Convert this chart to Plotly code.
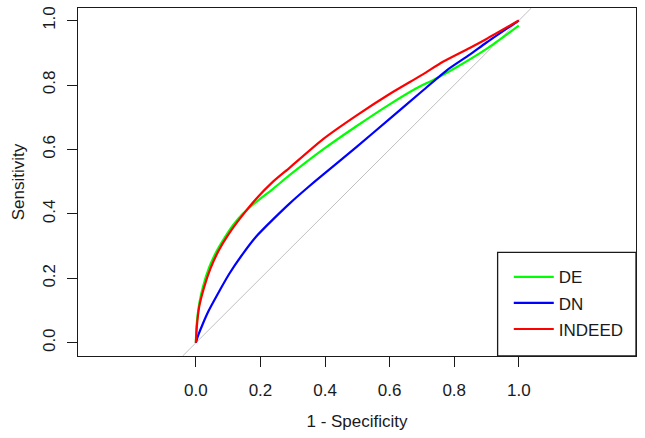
import plotly.graph_objects as go

# ROC curve data (1 - Specificity, Sensitivity)
de_fpr = [0, 0.002, 0.006, 0.012, 0.022, 0.042, 0.063, 0.084, 0.115, 0.146, 0.187, 0.239, 0.290,
          0.394, 0.497, 0.600, 0.683, 0.740, 0.807, 0.900, 1.0]
de_tpr = [0, 0.050, 0.091, 0.130, 0.174, 0.236, 0.282, 0.318, 0.365, 0.401, 0.437, 0.478, 0.520,
          0.600, 0.672, 0.740, 0.790, 0.818, 0.855, 0.912, 0.984]

dn_fpr = [0, 0.008, 0.022, 0.040, 0.063, 0.104, 0.146, 0.187, 0.239, 0.290, 0.342, 0.394,
          0.497, 0.600, 0.703, 0.776, 0.848, 0.900, 1.0]
dn_tpr = [0, 0.025, 0.060, 0.100, 0.143, 0.215, 0.277, 0.330, 0.383, 0.432, 0.478, 0.522,
          0.607, 0.695, 0.783, 0.845, 0.894, 0.932, 1.0]

indeed_fpr = [0, 0.003, 0.010, 0.025, 0.045, 0.070, 0.100, 0.140, 0.187, 0.239, 0.290,
              0.394, 0.497, 0.600, 0.703, 0.765, 0.848, 0.900, 1.0]
indeed_tpr = [0, 0.050, 0.110, 0.170, 0.230, 0.285, 0.335, 0.390, 0.447, 0.500, 0.543,
              0.632, 0.705, 0.772, 0.833, 0.872, 0.915, 0.943, 1.0]

ticks = [0.0, 0.2, 0.4, 0.6, 0.8, 1.0]
tick_labels = ["0.0", "0.2", "0.4", "0.6", "0.8", "1.0"]

x_range = [-0.365, 1.363]
y_range = [-0.041, 1.039]

FONT = "Liberation Sans, Arial, sans-serif"
INK = "#1a1a1a"

fig = go.Figure()

# reference diagonal
fig.add_trace(go.Scatter(x=[y_range[0], y_range[1]], y=[y_range[0], y_range[1]],
                         mode="lines", line=dict(color="#c0c0c0", width=1),
                         showlegend=False, hoverinfo="skip"))

series = [("DE", de_fpr, de_tpr, "#00ff00"),
          ("DN", dn_fpr, dn_tpr, "#0000ff"),
          ("INDEED", indeed_fpr, indeed_tpr, "#ff0000")]
for name, xs, ys, col in series:
    fig.add_trace(go.Scatter(x=xs, y=ys, mode="lines", name=name, legendgroup=name,
                             line=dict(color=col, width=2.2, shape="spline", smoothing=0.6)))

fig.update_layout(
    width=645, height=438,
    margin=dict(l=78, r=9, t=8, b=82),
    paper_bgcolor="white", plot_bgcolor="white",
    font=dict(family=FONT, size=17, color=INK),
    showlegend=True,
    legend=dict(x=0.772, y=0.278, xanchor="left", yanchor="top",
                bgcolor="rgba(0,0,0,0)", borderwidth=0,
                font=dict(size=17, family=FONT, color=INK),
                itemwidth=40, traceorder="grouped", tracegroupgap=1),
    shapes=[dict(type="rect", xref="paper", yref="paper",
                 x0=0.752, x1=1.0, y0=0.0, y1=0.298,
                 line=dict(color=INK, width=1.3), fillcolor="white", layer="below")],
)

fig.update_xaxes(range=x_range, tickvals=ticks, ticktext=tick_labels, automargin=False,
                 ticks="outside", ticklen=10, tickcolor=INK, tickwidth=1,
                 showgrid=False, zeroline=False,
                 showline=True, linecolor=INK, linewidth=1.3, mirror=True,
                 ticklabelstandoff=8,
                 title=dict(text="1 - Specificity", standoff=16,
                            font=dict(size=17, family=FONT)),
                 tickfont=dict(size=17, family=FONT))
fig.update_yaxes(range=y_range, tickvals=ticks, ticktext=tick_labels, automargin=False,
                 ticks="outside", ticklen=10, tickcolor=INK, tickwidth=1,
                 showgrid=False, zeroline=False, tickangle=-90,
                 showline=True, linecolor=INK, linewidth=1.3, mirror=True,
                 ticklabelstandoff=5,
                 title=dict(text="Sensitivity", standoff=11,
                            font=dict(size=17, family=FONT)),
                 tickfont=dict(size=17, family=FONT))

fig.write_html("out.html", config={"displayModeBar": False},
               post_script="document.body.style.margin='0';document.body.style.overflow='hidden';")
